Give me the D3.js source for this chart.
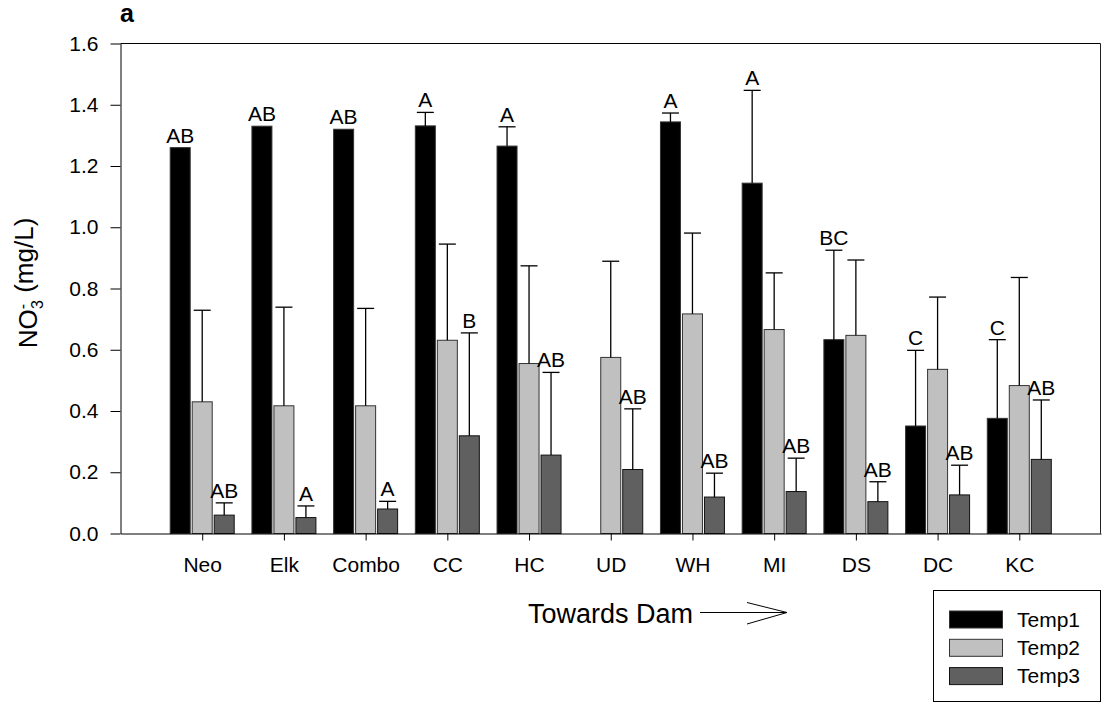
<!DOCTYPE html>
<html>
<head>
<meta charset="utf-8">
<script src="https://cdn.jsdelivr.net/npm/d3@7"></script>
<style>
  html, body { margin: 0; padding: 0; background: #fff; }
  svg { display: block; }
  text { font-family: "Liberation Sans", Arial, sans-serif; fill: #000; }
</style>
</head>
<body>
<svg id="chart" width="1102" height="706"></svg>
<script>
// Sampling sites, ordered towards the dam
const categories = ["Neo", "Elk", "Combo", "CC", "HC", "UD", "WH", "MI", "DS", "DC", "KC"];
const seriesNames = ["Temp1", "Temp2", "Temp3"];
const seriesColors = ["#000000", "#c0c0c0", "#606060"];
const seriesStrokes = ["#333333", "#333333", "#111111"];

// Mean NO3- (mg/L) per site
const temp1 = [1.26, 1.33, 1.32, 1.331, 1.265, null, 1.344, 1.144, 0.633, 0.351, 0.376];
const temp2 = [0.43, 0.417, 0.417, 0.631, 0.555, 0.575, 0.717, 0.666, 0.647, 0.536, 0.483];
const temp3 = [0.06, 0.052, 0.08, 0.319, 0.256, 0.209, 0.119, 0.137, 0.104, 0.126, 0.242];

// Upper error (standard deviation)
const temp1Err = [null, null, null, 0.044, 0.063, null, 0.029, 0.303, 0.292, 0.247, 0.257];
const temp2Err = [0.299, 0.322, 0.318, 0.314, 0.319, 0.314, 0.264, 0.185, 0.246, 0.236, 0.353];
const temp3Err = [0.040, 0.038, 0.025, 0.336, 0.270, 0.198, 0.078, 0.109, 0.065, 0.097, 0.194];

// Significance letters
const temp1Labels = ["AB", "AB", "AB", "A", "A", "", "A", "A", "BC", "C", "C"];
const temp2Labels = ["", "", "", "", "", "", "", "", "", "", ""];
const temp3Labels = ["AB", "A", "A", "B", "AB", "AB", "AB", "AB", "AB", "AB", "AB"];

const yTicks = [0, 0.2, 0.4, 0.6, 0.8, 1.0, 1.2, 1.4, 1.6];

const values = [temp1, temp2, temp3];
const errors = [temp1Err, temp2Err, temp3Err];
const labels = [temp1Labels, temp2Labels, temp3Labels];

const svg = d3.select("#chart");
const plotLeft = 120.5, plotRight = 1100.5, plotTop = 43.5, plotBottom = 533.5;

const x = d3.scalePoint().domain(categories).range([plotLeft, plotRight + 0.5]).padding(1);
const xSub = d3.scaleBand().domain(seriesNames).range([-32, 32]).paddingInner(2 / 22);
const y = d3.scaleLinear().domain([0, 1.6]).range([plotBottom, plotTop]);

// Frame: top and right edges
svg.append("line").attr("x1", plotLeft).attr("x2", plotRight).attr("y1", plotTop).attr("y2", plotTop)
  .attr("stroke", "#000").attr("stroke-width", 1);
svg.append("line").attr("x1", plotRight).attr("x2", plotRight).attr("y1", plotTop).attr("y2", plotBottom)
  .attr("stroke", "#222").attr("stroke-width", 1);

// Bars, error bars and letters
const groups = svg.append("g");
seriesNames.forEach((name, s) => {
  const rows = categories.map((c, i) => ({
    c, v: values[s][i], e: errors[s][i], lab: labels[s][i]
  })).filter(d => d.v != null);

  const g = groups.append("g");
  g.selectAll("rect").data(rows).join("rect")
    .attr("x", d => x(d.c) + xSub(name))
    .attr("y", d => y(d.v))
    .attr("width", xSub.bandwidth())
    .attr("height", d => y(0) - y(d.v))
    .attr("fill", seriesColors[s])
    .attr("stroke", seriesStrokes[s])
    .attr("stroke-width", 1);

  const eb = rows.filter(d => d.e != null);
  const cx = d => x(d.c) + xSub(name) + xSub.bandwidth() / 2;
  g.selectAll("line.stem").data(eb).join("line").attr("class", "stem")
    .attr("x1", cx).attr("x2", cx)
    .attr("y1", d => y(d.v)).attr("y2", d => y(d.v + d.e))
    .attr("stroke", "#000").attr("stroke-width", 1.3);
  g.selectAll("line.cap").data(eb).join("line").attr("class", "cap")
    .attr("x1", d => cx(d) - 8.5).attr("x2", d => cx(d) + 8.5)
    .attr("y1", d => y(d.v + d.e)).attr("y2", d => y(d.v + d.e))
    .attr("stroke", "#000").attr("stroke-width", 1.3);

  g.selectAll("text").data(rows.filter(d => d.lab)).join("text")
    .attr("x", cx)
    .attr("y", d => y(d.v + (d.e || 0)) - 5)
    .attr("text-anchor", "middle")
    .attr("font-size", 21)
    .text(d => d.lab);
});

// Y axis
const yAxis = d3.axisLeft(y).tickValues(yTicks).tickFormat(d3.format(".1f"))
  .tickSize(10).tickSizeOuter(0).tickPadding(12);
const gy = svg.append("g").attr("transform", `translate(${plotLeft},0)`).call(yAxis);
gy.selectAll("text").attr("font-size", 21).attr("font-family", "Liberation Sans, Arial, sans-serif");
gy.selectAll("line, path").attr("stroke", "#000");

// X axis
const xAxis = d3.axisBottom(x).tickSize(7).tickSizeOuter(0).tickPadding(17);
const gx = svg.append("g").attr("transform", `translate(0,${plotBottom})`).call(xAxis);
gx.selectAll("text").attr("font-size", 21).attr("font-family", "Liberation Sans, Arial, sans-serif");
gx.selectAll("line, path").attr("stroke", "#000");

// Y axis title: NO3- (mg/L)
const yt = svg.append("text")
  .attr("transform", "translate(37,283) rotate(-90)")
  .attr("text-anchor", "middle")
  .attr("font-size", 26);
yt.append("tspan").text("NO");
yt.append("tspan").attr("font-size", 16).attr("dy", "-0.55em").text("-");
yt.append("tspan").attr("font-size", 16).attr("dx", "-5").attr("dy", "0.95em").text("3");
yt.append("tspan").attr("dy", "-0.4em").text(" (mg/L)");

// Panel letter
svg.append("text").attr("x", 120).attr("y", 22)
  .attr("font-family", "Liberation Serif, Times New Roman, serif")
  .attr("font-weight", "bold").attr("font-size", 25).text("a");

// Direction note with arrow
svg.append("text").attr("x", 528).attr("y", 623).attr("font-size", 27).text("Towards Dam");
const arrow = svg.append("g").attr("stroke", "#000").attr("stroke-width", 1).attr("fill", "none");
arrow.append("line").attr("x1", 700).attr("x2", 787).attr("y1", 612.5).attr("y2", 612.5);
arrow.append("polyline").attr("points", "747,602.5 787,612.5 747,624");

// Legend
const lg = svg.append("g");
lg.append("rect").attr("x", 933.5).attr("y", 590.5).attr("width", 167).attr("height", 111)
  .attr("fill", "#fff").attr("stroke", "#000").attr("stroke-width", 1);
seriesNames.forEach((name, s) => {
  const yy = 611 + s * 28.3;
  lg.append("rect").attr("x", 949.5).attr("y", yy).attr("width", 53).attr("height", 17)
    .attr("fill", seriesColors[s]).attr("stroke", seriesStrokes[s]).attr("stroke-width", 1);
  lg.append("text").attr("x", 1017).attr("y", yy + 15.5).attr("font-size", 21).text(name);
});
</script>
</body>
</html>
